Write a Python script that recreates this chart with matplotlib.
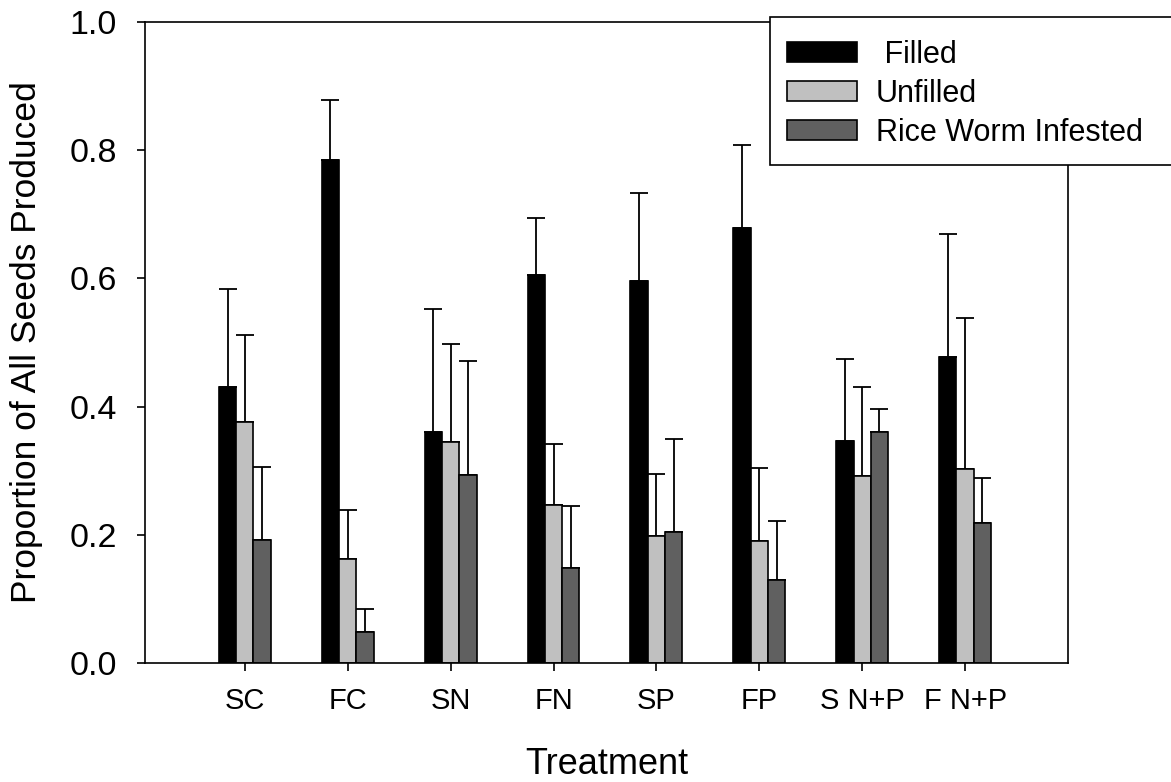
import matplotlib
matplotlib.use("Agg")
import matplotlib.pyplot as plt
from matplotlib.patches import Rectangle
import numpy as np

plt.rcParams['font.family'] = ['Liberation Sans', 'DejaVu Sans']

treatments = ["SC", "FC", "SN", "FN", "SP", "FP", "S N+P", "F N+P"]
filled = [0.431, 0.785, 0.360, 0.605, 0.596, 0.678, 0.346, 0.478]
filled_top = [0.584, 0.878, 0.552, 0.695, 0.734, 0.808, 0.474, 0.670]
unfilled = [0.376, 0.163, 0.345, 0.246, 0.198, 0.191, 0.292, 0.302]
unfilled_top = [0.512, 0.239, 0.498, 0.342, 0.295, 0.304, 0.431, 0.539]
infested = [0.192, 0.048, 0.293, 0.148, 0.205, 0.130, 0.360, 0.218]
infested_top = [0.305, 0.085, 0.471, 0.245, 0.350, 0.222, 0.396, 0.289]

series = [
    (" Filled", filled, filled_top, "#000000"),
    ("Unfilled", unfilled, unfilled_top, "#c0c0c0"),
    ("Rice Worm Infested", infested, infested_top, "#606060"),
]

W, H = 1171, 782
fig = plt.figure(figsize=(W/100, H/100), dpi=100)
ax = fig.add_axes([145/W, 1-663/H, (1068-145)/W, (663-22)/H])

x = np.arange(1, len(treatments) + 1)
w = 0.168
for i, (lab, vals, tops, col) in enumerate(series):
    xs = x + (i - 1) * w
    vals = np.array(vals)
    err = np.array(tops) - vals
    ax.bar(xs, vals, width=w, color=col, edgecolor='black', linewidth=1.2, label=lab, zorder=2)
    ax.errorbar(xs, vals, yerr=[np.zeros_like(err), err], fmt='none', ecolor='black',
                elinewidth=1.3, capsize=6.5, capthick=1.3, zorder=1)

ax.set_xlim(0.03, 9.0)
ax.set_ylim(0, 1.0)
ax.set_xticks(x)
ax.set_xticklabels(treatments, fontsize=21)
ax.set_yticks([0, 0.2, 0.4, 0.6, 0.8, 1.0])
ax.set_yticklabels(["0.0", "0.2", "0.4", "0.6", "0.8", "1.0"], fontsize=24.5)
ax.tick_params(axis='both', direction='out', length=6, width=1.2, colors='black')
ax.tick_params(axis='x', pad=11)
ax.tick_params(axis='y', pad=14)
for s in ax.spines.values():
    s.set_linewidth(1.2)

ax.set_xlabel("Treatment", fontsize=26, labelpad=23)
ax.set_ylabel("Proportion of All Seeds Produced", fontsize=25.5, labelpad=19)

# legend frame (extends past the right edge of the figure, as in the original)
frame = Rectangle((770/W, 1-165/H), (1185-770)/W, (165-17)/H, transform=fig.transFigure,
                  facecolor='white', edgecolor='black', linewidth=1.2, clip_on=False, zorder=4)
ax.add_patch(frame)

leg = ax.legend(loc='upper left', bbox_to_anchor=(770/W, 1-23/H),
                bbox_transform=fig.transFigure, fontsize=22, frameon=False,
                handlelength=2.3, handleheight=0.66, labelspacing=0.29,
                handletextpad=0.62, borderpad=0.55, borderaxespad=0)
leg.set_zorder(5)

fig.savefig("out.png", dpi=100)
